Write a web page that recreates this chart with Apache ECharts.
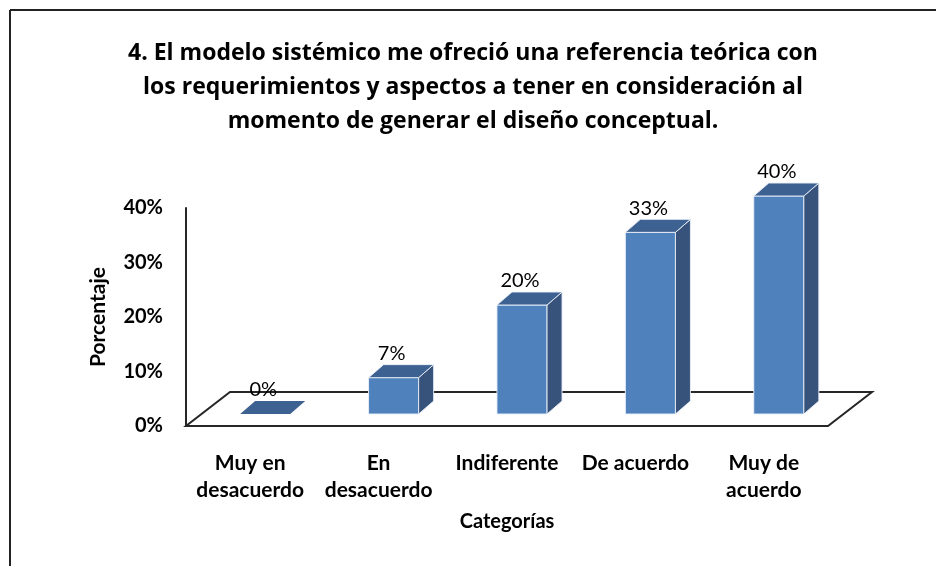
<!DOCTYPE html>
<html>
<head>
<meta charset="utf-8">
<script src="https://cdn.jsdelivr.net/npm/echarts@6/dist/echarts.min.js"></script>
<style>
  html, body { margin: 0; padding: 0; background: #fff; }
  #chart { width: 936px; height: 566px; }
</style>
</head>
<body>
<div id="chart"></div>
<script>
// data
const categories = ['Muy en\ndesacuerdo', 'En\ndesacuerdo', 'Indiferente', 'De acuerdo', 'Muy de\nacuerdo'];
const percentages = [0, 6.67, 20, 33.33, 40];
const yTicks = [0, 10, 20, 30, 40];

const FONT = 'Lato';
const FLOOR_DX = 44, FLOOR_DY = -34;   // depth of the 3d floor
const BAR_DX = 15, BAR_DY = -12;       // front face offset from front plane
const DEPTH_DX = 15, DEPTH_DY = -13;   // bar depth

const chart = echarts.init(document.getElementById('chart'));

function renderFloor(params, api) {
  const c = api.coord([0, 0]);
  const band = api.size([1, 0])[0];
  const x0 = c[0] - band / 2;
  const x1 = x0 + band * categories.length;
  const y0 = c[1];
  return {
    type: 'polygon',
    shape: { points: [[x0, y0], [x1, y0], [x1 + FLOOR_DX, y0 + FLOOR_DY], [x0 + FLOOR_DX, y0 + FLOOR_DY]] },
    style: { fill: '#fff', stroke: '#262626', lineWidth: 2 }
  };
}

function renderBar(params, api) {
  const idx = api.value(0);
  const v = api.value(1);
  const top = api.coord([idx, v]);
  const base = api.coord([idx, 0]);
  const band = api.size([1, 0])[0];
  const w = band * 0.39;
  const xl = top[0] + BAR_DX - w / 2;
  const xr = xl + w;
  const yt = top[1] + BAR_DY;
  const yb = base[1] + BAR_DY;
  const edge = 'rgba(235,241,250,0.9)';
  const children = [];
  if (yb - yt > 1) {
    children.push({
      type: 'rect',
      shape: { x: xl, y: yt, width: w, height: yb - yt },
      style: { fill: '#4f81bd', stroke: edge, lineWidth: 1 }
    });
    children.push({
      type: 'polygon',
      shape: { points: [[xr, yt], [xr + DEPTH_DX, yt + DEPTH_DY], [xr + DEPTH_DX, yb + DEPTH_DY], [xr, yb]] },
      style: { fill: '#37537c', stroke: edge, lineWidth: 1 }
    });
  }
  children.push({
    type: 'polygon',
    shape: { points: [[xl, yt], [xl + DEPTH_DX, yt + DEPTH_DY], [xr + DEPTH_DX, yt + DEPTH_DY], [xr, yt]] },
    style: { fill: '#3d6190', stroke: v > 0 ? edge : null, lineWidth: 1 }
  });
  children.push({
    type: 'text',
    style: {
      text: Math.round(v) + '%',
      x: top[0] + BAR_DX - 2,
      y: yt + DEPTH_DY - 1,
      align: 'center',
      verticalAlign: 'bottom',
      fontFamily: FONT,
      fontSize: 20,
      fill: '#000'
    }
  });
  return { type: 'group', children: children };
}

chart.setOption({
  backgroundColor: '#fff',
  animation: false,
  title: {
    text: '4. El modelo sistémico me ofreció una referencia teórica con\nlos requerimientos y aspectos a tener en consideración al\nmomento de generar el diseño conceptual.',
    left: 468,
    top: 31,
    textAlign: 'center',
    textStyle: { fontFamily: 'Open Sans', fontSize: 23, fontWeight: 'bold', color: '#000', lineHeight: 34 }
  },
  grid: { left: 186, right: 108, top: 208, bottom: 140 },
  xAxis: {
    type: 'category',
    data: categories,
    name: 'Categorías',
    nameLocation: 'middle',
    nameGap: 86,
    nameTextStyle: { fontFamily: FONT, fontSize: 20, fontWeight: 'bold', color: '#000' },
    axisLine: { show: false },
    axisTick: { show: false },
    axisLabel: {
      interval: 0,
      margin: 24,
      fontFamily: FONT,
      fontSize: 21,
      fontWeight: 'bold',
      color: '#000',
      lineHeight: 27
    }
  },
  yAxis: {
    type: 'value',
    min: yTicks[0],
    max: yTicks[yTicks.length - 1],
    interval: 10,
    name: 'Porcentaje',
    nameLocation: 'middle',
    nameGap: 77,
    nameRotate: 90,
    nameTextStyle: { fontFamily: FONT, fontSize: 21, fontWeight: 'bold', color: '#000' },
    axisLine: { show: true, lineStyle: { color: '#262626', width: 2 } },
    axisTick: { show: false },
    splitLine: { show: false },
    axisLabel: {
      margin: 23,
      formatter: '{value}%',
      fontFamily: FONT,
      fontSize: 20,
      fontWeight: 'bold',
      color: '#000'
    }
  },
  graphic: [
    { type: 'line', shape: { x1: 10, y1: 10, x2: 936, y2: 10 }, style: { stroke: '#222', lineWidth: 2 } },
    { type: 'line', shape: { x1: 10, y1: 10, x2: 10, y2: 566 }, style: { stroke: '#222', lineWidth: 2 } }
  ],
  series: [
    {
      type: 'custom',
      z: 1,
      silent: true,
      renderItem: renderFloor,
      data: [[0, 0]]
    },
    {
      type: 'custom',
      z: 3,
      renderItem: renderBar,
      encode: { x: 0, y: 1 },
      data: percentages.map((v, i) => [i, v])
    }
  ]
});
</script>
</body>
</html>
